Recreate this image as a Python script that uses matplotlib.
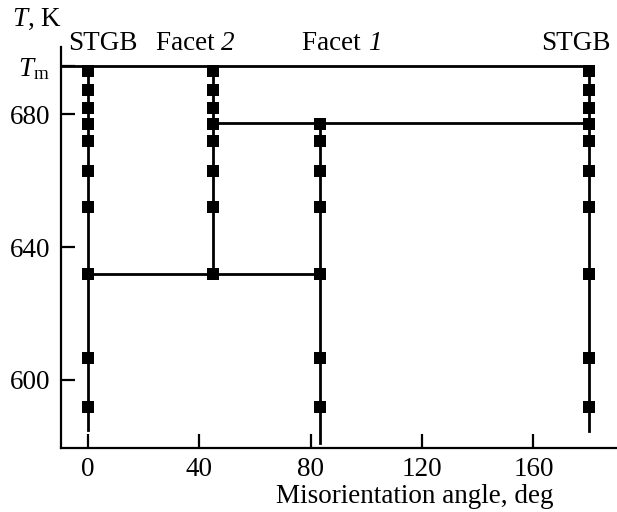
import matplotlib
matplotlib.use("Agg")
import matplotlib.pyplot as plt

plt.rcParams['font.family'] = ['Liberation Serif', 'DejaVu Serif']
plt.rcParams['mathtext.fontset'] = 'custom'
plt.rcParams['mathtext.rm'] = 'Liberation Serif'
plt.rcParams['mathtext.it'] = 'Liberation Serif:italic'

# Data
T_m = 694.5
levels_all = [693, 687.5, 682, 677, 672, 663, 652, 632, 606.5, 592]
stgb0_x = 0
stgb0_T = levels_all
facet2_x = 45
facet2_T = [693, 687.5, 682, 677, 672, 663, 652, 632]
facet1_x = 83.5
facet1_T = [677, 672, 663, 652, 632, 606.5, 592]
stgb180_x = 180
stgb180_T = levels_all
bottom_ends = {0: 585, 83.5: 581, 180: 584.5}
T_facet_upper = 677.5
T_facet_lower = 632

xticks = [0, 40, 80, 120, 160]
yticks = [600, 640, 680]

FS = 19.5
fig = plt.figure(figsize=(6.17, 5.12), dpi=100)
ax = fig.add_axes([61/617, 1-447.7/512, 1-61/617, (447.7-46.7)/512])
ax.set_xlim(-9.7, 190)
ax.set_ylim(579.6, 700.4)

lw = 2.0
k = 'black'
# Horizontal lines
ax.plot([-9.7, stgb180_x], [T_m, T_m], color=k, lw=lw, solid_capstyle='butt')
ax.plot([facet2_x, stgb180_x], [T_facet_upper, T_facet_upper], color=k, lw=lw)
ax.plot([stgb0_x, facet1_x], [T_facet_lower, T_facet_lower], color=k, lw=lw)
# Vertical lines
ax.plot([stgb0_x, stgb0_x], [T_m, bottom_ends[0]], color=k, lw=lw)
ax.plot([facet2_x, facet2_x], [T_m, T_facet_lower], color=k, lw=lw)
ax.plot([facet1_x, facet1_x], [T_facet_upper, bottom_ends[83.5]], color=k, lw=lw)
ax.plot([stgb180_x, stgb180_x], [T_m, bottom_ends[180]], color=k, lw=lw)

ms = 8
for x, Ts in [(stgb0_x, stgb0_T), (facet2_x, facet2_T), (facet1_x, facet1_T), (stgb180_x, stgb180_T)]:
    ax.plot([x]*len(Ts), Ts, 's', color=k, ms=ms, mec=k, mew=0, zorder=5)

for s in ['top', 'right']:
    ax.spines[s].set_visible(False)
for s in ['left', 'bottom']:
    ax.spines[s].set_linewidth(1.6)

ax.set_xticks(xticks)
ax.set_xticklabels([str(v) for v in xticks])
ax.set_yticks(yticks + [T_m])
ax.set_yticklabels([str(v) for v in yticks] + [r'$T_\mathrm{m}$'])
ax.tick_params(direction='in', length=10, width=1.6, labelsize=FS, pad=6)
ax.tick_params(axis='x', pad=7)
ax.tick_params(axis='y', pad=8)

ax.set_xlabel('Misorientation angle, deg', fontsize=FS, labelpad=2)
ax.xaxis.set_label_coords((414.7-61)/(617-61), -0.09)

fig.text(37/617, 1-19/512, r'$T$, K', fontsize=FS, ha='center', va='center')

fig.canvas.draw()
renderer = fig.canvas.get_renderer()
W, H = 617, 512
ytop = 1 - 43/512
for xc, plain, ital in [(102.5, 'STGB', ''), (195, 'Facet ', '2'), (342, 'Facet ', '1'), (575.5, 'STGB', '')]:
    t1 = fig.text(0, ytop, plain, fontsize=FS, ha='left', va='center')
    w1 = t1.get_window_extent(renderer).width
    w2 = 0
    t2 = None
    if ital:
        t2 = fig.text(0, ytop, ital, fontsize=FS, ha='left', va='center', style='italic')
        w2 = t2.get_window_extent(renderer).width
    x0 = xc - (w1 + w2) / 2
    t1.set_x(x0 / W)
    if t2 is not None:
        t2.set_x((x0 + w1) / W)

fig.savefig('out.png', dpi=100)
